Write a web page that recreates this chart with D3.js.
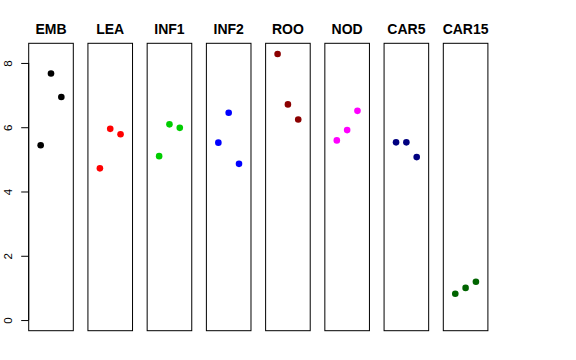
<!DOCTYPE html>
<html><head><meta charset="utf-8">
<script src="https://cdn.jsdelivr.net/npm/d3@7"></script>
<style>body{margin:0;background:#fff}svg{display:block}</style>
</head><body>
<script>
const categories = ["EMB","LEA","INF1","INF2","ROO","NOD","CAR5","CAR15"];
const colors = ["#000000","#FF0000","#00CD00","#0000FF","#8B0000","#FF00FF","#000080","#006400"];
const values = [
  [5.44, 7.67, 6.94],
  [4.72, 5.95, 5.78],
  [5.10, 6.09, 5.98],
  [5.52, 6.45, 4.86],
  [8.28, 6.71, 6.24],
  [5.59, 5.91, 6.51],
  [5.53, 5.53, 5.07],
  [0.82, 1.00, 1.19]
];
const yTicks = [0, 2, 4, 6, 8];

const W = 576, H = 360;
const svg = d3.select("body").append("svg").attr("width", W).attr("height", H);

const ylim = [0, d3.max(values.flat())];
const ext = (ylim[1] - ylim[0]) * 0.04;
const y = d3.scaleLinear().domain([ylim[0] - ext, ylim[1] + ext]).range([330.7, 43.3]);
const panelLeft = d3.scaleLinear().domain([0, 7]).range([28.7, 443.3]);
const panelW = 44.6;

categories.forEach((cat, i) => {
  const L = panelLeft(i);
  const x = d3.scaleLinear().domain([-0.16, 4.16]).range([L, L + panelW]);
  const g = svg.append("g");
  g.append("rect").attr("x", L).attr("y", y.range()[1]).attr("width", panelW)
    .attr("height", y.range()[0] - y.range()[1])
    .attr("fill", "none").attr("stroke", "#000").attr("stroke-width", 1);
  g.selectAll("circle").data(values[i]).join("circle")
    .attr("cx", (d, j) => x(j + 1)).attr("cy", d => y(d)).attr("r", 3.3)
    .attr("fill", colors[i]);
  g.append("text").attr("x", L + panelW / 2).attr("y", 33.5)
    .attr("text-anchor", "middle").attr("font-family", "Liberation Sans, Arial, sans-serif")
    .attr("font-weight", "bold").attr("font-size", 14).text(cat);
});

// y axis
const axis = svg.append("g").attr("transform", `translate(${panelLeft(0)},0)`);
axis.call(d3.axisLeft(y).tickValues(yTicks).tickSize(7.5).tickFormat(d3.format("d")));
axis.select(".domain").remove();
axis.append("line").attr("x1", 0).attr("x2", 0).attr("y1", y(0)).attr("y2", y(8)).attr("stroke", "#000");
axis.selectAll(".tick line").attr("stroke", "#000");
axis.selectAll(".tick text")
  .attr("font-family", "Liberation Sans, Arial, sans-serif").attr("font-size", 11.5)
  .attr("fill", "#000")
  .attr("x", null).attr("dy", null)
  .attr("text-anchor", "middle")
  .attr("transform", "translate(-16.5,0) rotate(-90)");
</script>
</body></html>
